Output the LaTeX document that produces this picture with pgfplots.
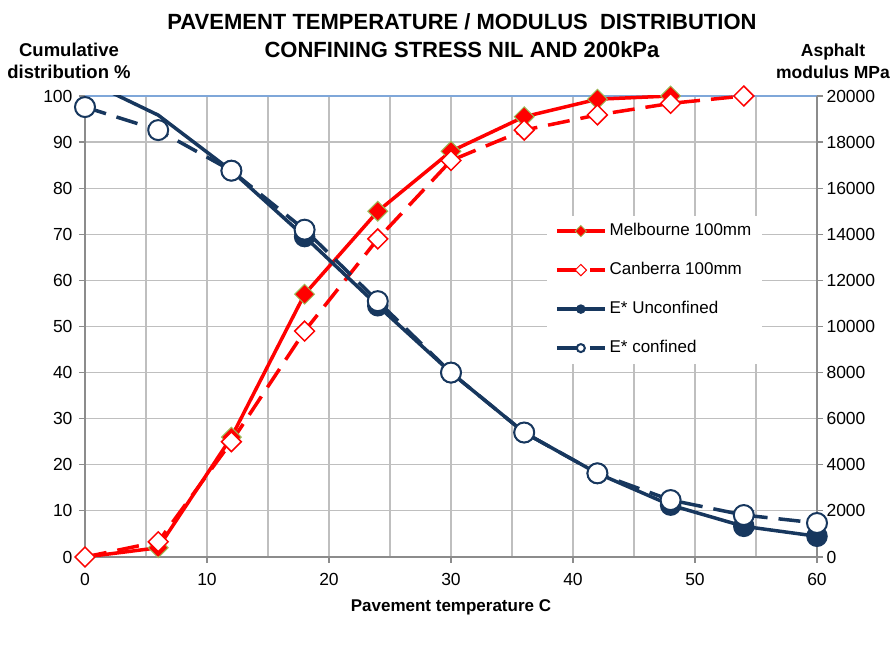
\documentclass[border=0pt]{standalone}
\usepackage{fontspec}
\setmainfont{Liberation Sans}
\usepackage{pgfplots}
\pgfplotsset{compat=1.18}
\definecolor{navy}{HTML}{17375E}
\definecolor{gridgray}{HTML}{BFBFBF}
\definecolor{axgray}{HTML}{8C8C8C}
\definecolor{topblue}{HTML}{7FA7D9}
\definecolor{mgreen}{HTML}{9BBB59}
\begin{document}
\begin{tikzpicture}[x=1pt,y=1pt]
\useasboundingbox (-85,-93) rectangle (809,557);
\pgfplotsset{every axis/.append style={
  width=732pt,height=461pt,scale only axis,
  xmin=0,xmax=60,
  tick label style={font=\fontsize{17.5}{20}\selectfont},
  /pgf/number format/assume math mode=true,
  axis line style={axgray,line width=1.2pt,-},
  tick style={axgray,line width=1.2pt},
  tick align=outside, major tick length=6pt, minor tick length=0pt,
}}
\begin{axis}[at={(0,0)},anchor=south west,
  ymin=0,ymax=100,
  axis x line*=bottom, axis y line*=left,
  xtick={0,10,...,60}, minor xtick={5,15,...,55},
  ytick={0,10,...,100},
  xticklabel style={yshift=-7pt},
  yticklabel style={xshift=-3pt},
  grid=both,
  major grid style={gridgray,line width=1.2pt},
  minor grid style={gridgray,line width=1.2pt},
  xlabel={\bfseries Pavement temperature C},
  xlabel style={font=\fontsize{17}{20}\selectfont, yshift=-7pt},
]
\draw[topblue,line width=1.2pt] (rel axis cs:0,1) -- (rel axis cs:1,1);
% Melbourne 100mm
\addplot[red,line width=3.5pt,mark=square*,mark size=7pt,
  mark options={rotate=45,solid,fill=red,draw=mgreen,line width=1pt}]
  coordinates {(0,0) (6,2) (12,26) (18,57) (24,75) (30,88) (36,95.5) (42,99.3) (48,100)};
% Canberra 100mm
\addplot[red,line width=3.5pt,dash pattern=on 22pt off 11pt,mark=square*,mark size=7pt,
  mark options={rotate=45,solid,fill=white,draw=red,line width=1.5pt}]
  coordinates {(0,0) (6,3.3) (12,25) (18,49) (24,69) (30,86) (36,92.6) (42,95.9) (48,98.4) (54,100)};
\end{axis}
\begin{axis}[at={(0,0)},anchor=south west,
  ymin=0,ymax=20000,
  axis y line*=right, axis x line=none,
  ytick={0,2000,...,20000},
  scaled y ticks=false,
  yticklabel style={/pgf/number format/1000 sep={}},
  legend style={at={(0.631,0.741)},anchor=north west,draw=none,fill=white,
    font=\fontsize{17}{20}\selectfont,
    inner xsep=8pt,inner ysep=4pt,row sep=16pt,
    nodes={inner sep=3pt,text height=13pt,text depth=4pt}},
  legend cell align=left,
  legend image code/.code={\draw[#1,mark size=4pt,mark indices={2}]
    plot coordinates {(0pt,0pt) (24pt,0pt) (48pt,0pt)};},
]
\addlegendimage{red,line width=3.5pt,mark=square*,
  mark options={rotate=45,solid,fill=red,draw=mgreen,line width=0.8pt}}
\addlegendentry{Melbourne 100mm}
\addlegendimage{red,line width=3.5pt,dash pattern=on 22pt off 11pt,mark=square*,
  mark options={rotate=45,solid,fill=white,draw=red,line width=1pt}}
\addlegendentry{Canberra 100mm}
% E* Unconfined
\addplot[navy,line width=3.5pt,mark=*,mark size=10pt,
  mark indices={2,3,4,5,6,7,8,9,10,11},
  mark options={solid,fill=navy,draw=navy,line width=1.5pt}]
  coordinates {(0,20700) (6,19170) (12,16760) (18,13900) (24,10900) (30,8000) (36,5400) (42,3630) (48,2250) (54,1330) (60,900)};
\addlegendentry{E* Unconfined}
% E* confined
\addplot[navy,line width=3.5pt,dash pattern=on 22pt off 11pt,mark=*,mark size=10pt,
  mark options={solid,fill=white,draw=navy,line width=2pt}]
  coordinates {(0,19520) (6,18520) (12,16760) (18,14200) (24,11100) (30,8000) (36,5400) (42,3630) (48,2470) (54,1820) (60,1475)};
\addlegendentry{E* confined}
\end{axis}
\node[font=\fontsize{22}{28}\selectfont\bfseries,align=center] at (377,521)
  {PAVEMENT TEMPERATURE / MODULUS\ \ DISTRIBUTION\\CONFINING STRESS NIL AND 200kPa};
\node[font=\fontsize{18.5}{22}\selectfont\bfseries,align=center] at (-16,496)
  {Cumulative\\distribution \%};
\node[font=\fontsize{17.5}{22}\selectfont\bfseries,align=center] at (748,496)
  {Asphalt\\modulus MPa};
\end{tikzpicture}
\end{document}
